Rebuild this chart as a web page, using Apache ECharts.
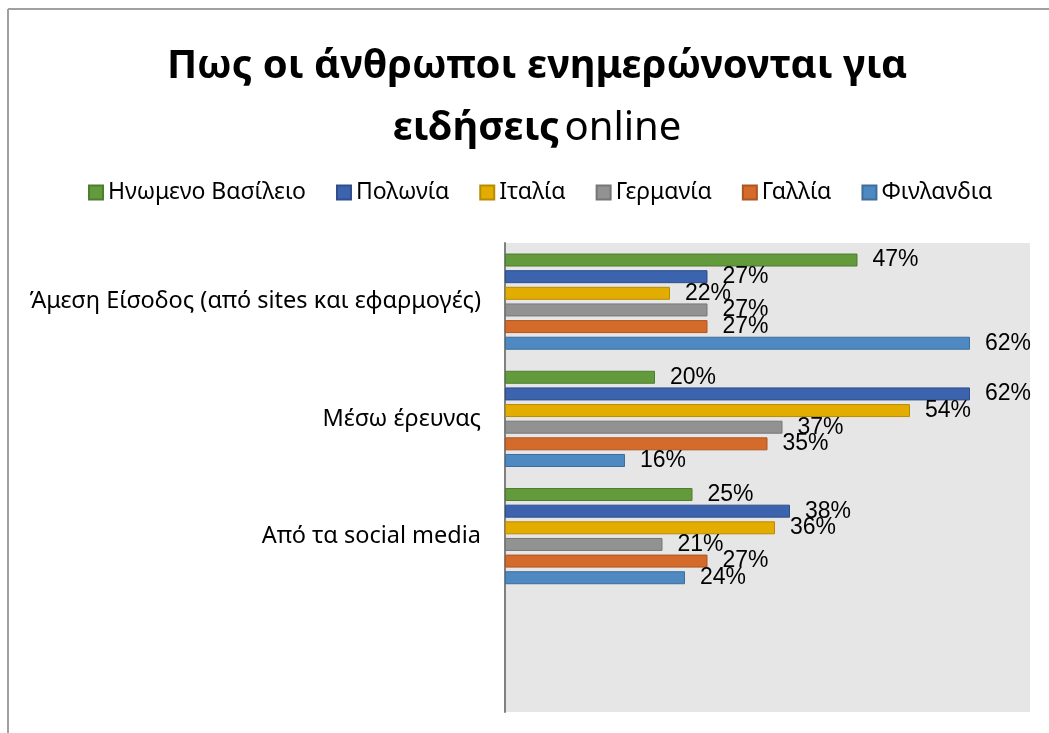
<!DOCTYPE html>
<html>
<head>
<meta charset="utf-8">
<script src="https://cdn.jsdelivr.net/npm/echarts@6/dist/echarts.min.js"></script>
<style>
html,body{margin:0;padding:0;background:#fff;}
#c{width:1049px;height:733px;}
</style>
</head>
<body>
<div id="c"></div>
<script>
const categories = ['Άμεση Είσοδος (από sites και εφαρμογές)', 'Μέσω έρευνας', 'Από τα social media', ''];
const seriesNames = ['Ηνωμενο Βασίλειο', 'Πολωνία', 'Ιταλία', 'Γερμανία', 'Γαλλία', 'Φινλανδια'];
const ukValues = [47, 20, 25];
const polandValues = [27, 62, 38];
const italyValues = [22, 54, 36];
const germanyValues = [27, 37, 21];
const franceValues = [27, 35, 27];
const finlandValues = [62, 16, 24];
const colors = ['#629A3C', '#3C63AE', '#E2AC00', '#929292', '#D46B2A', '#4E89C2'];
const borders = ['#4E7D30', '#2F4E8C', '#B88C00', '#767676', '#AD5622', '#3E6E9C'];

const allValues = [ukValues, polandValues, italyValues, germanyValues, franceValues, finlandValues];
const labelFont = '"Liberation Sans", Arial, sans-serif';
const textFont = '"Noto Sans", "Open Sans", sans-serif';

const series = seriesNames.map((name, i) => ({
  name: name,
  type: 'bar',
  data: allValues[i],
  barWidth: 13,
  barGap: '28%',
  itemStyle: { color: colors[i], borderColor: borders[i], borderWidth: 1 },
  label: {
    show: true,
    position: 'right',
    distance: 15,
    formatter: '{c}%',
    color: '#000',
    fontSize: 23,
    fontFamily: labelFont
  }
}));

const chart = echarts.init(document.getElementById('c'), null, { renderer: 'canvas' });
chart.setOption({
  animation: false,
  backgroundColor: '#fff',
  title: {
    left: 532,
    top: 31,
    textAlign: 'center',
    text: '{b|Πως οι άνθρωποι ενημερώνονται για}\n{b|ειδήσεις} {n|online}',
    textStyle: {
      align: 'center',
      rich: {
        b: { fontSize: 40, fontWeight: 'bold', fontFamily: textFont, color: '#000', lineHeight: 62 },
        n: { fontSize: 40, fontWeight: 'normal', fontFamily: textFont, color: '#000', lineHeight: 62 }
      }
    }
  },
  legend: {
    left: 83,
    top: 176,
    icon: 'rect',
    itemWidth: 14,
    itemHeight: 14,
    itemGap: 30,
    textStyle: { fontSize: 23, fontFamily: textFont, color: '#000' },
    data: seriesNames
  },
  graphic: [
    { type: 'line', shape: { x1: 8, y1: 9, x2: 1049, y2: 9 }, style: { stroke: '#A0A0A0', lineWidth: 2 } },
    { type: 'line', shape: { x1: 8, y1: 9, x2: 8, y2: 733 }, style: { stroke: '#A0A0A0', lineWidth: 2 } }
  ],
  grid: {
    left: 505,
    right: 19,
    top: 243,
    bottom: 21,
    show: true,
    backgroundColor: '#E6E6E6',
    borderWidth: 0
  },
  xAxis: {
    type: 'value',
    min: 0,
    max: 70,
    axisLine: { show: false },
    axisTick: { show: false },
    axisLabel: { show: false },
    splitLine: { show: false }
  },
  yAxis: {
    type: 'category',
    inverse: true,
    data: categories,
    axisLine: { show: true, lineStyle: { color: '#808080', width: 2 } },
    axisTick: { show: false },
    axisLabel: { fontSize: 23.5, fontFamily: textFont, color: '#000', margin: 24 }
  },
  series: series
});
</script>
</body>
</html>
